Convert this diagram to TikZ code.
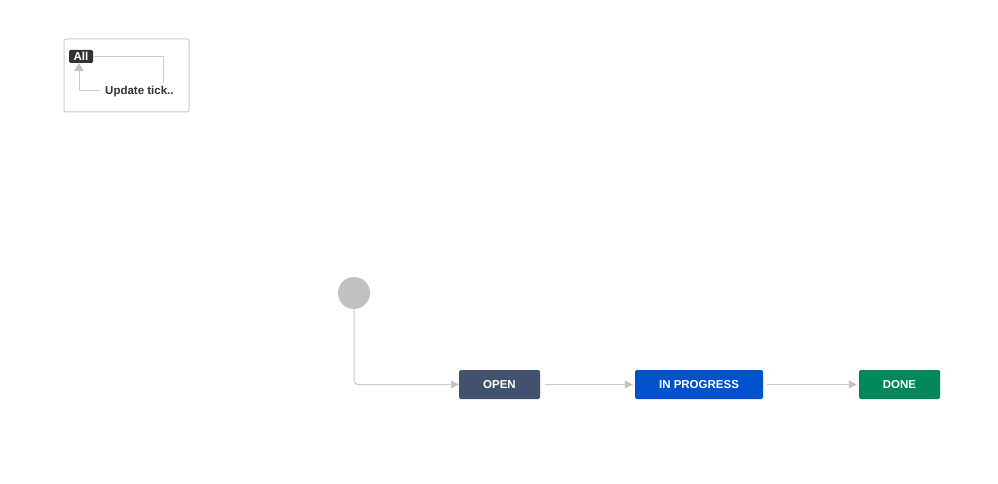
\documentclass[tikz,border=0pt]{standalone}
\usepackage{fontspec}
\setmainfont{Liberation Sans}
\usetikzlibrary{arrows.meta}
\definecolor{lineg}{HTML}{CCCCCC}
\definecolor{tipg}{HTML}{C4C4C4}
\definecolor{openc}{HTML}{42526E}
\definecolor{progc}{HTML}{0052CC}
\definecolor{donec}{HTML}{00875A}
\definecolor{tagc}{HTML}{333333}
\definecolor{startc}{HTML}{C1C1C1}
\tikzset{
  status/.style={rectangle, rounded corners=1.5pt, minimum height=29pt, inner sep=0pt, text=white, font=\bfseries\fontsize{11.5pt}{13pt}\selectfont},
  conn/.style={draw=lineg, line width=1pt, -{Triangle[length=8pt,width=8pt,fill=tipg,color=tipg]}},
}
\begin{document}
\begin{tikzpicture}[x=1pt,y=-1pt]
\useasboundingbox (0,0) rectangle (998,484);
% global transitions box
\node[draw=lineg, line width=1pt, rounded corners=2pt, minimum width=125pt, minimum height=73pt, inner sep=0pt] (gbox) at (126.5,75.5) {};
\node[fill=tagc, rounded corners=1.5pt, minimum width=24pt, minimum height=13pt, inner sep=0pt, text=white, font=\bfseries\fontsize{11.5pt}{13pt}\selectfont] (all) at (81,56.5) {All};
\node[anchor=west, inner sep=0pt, text=tagc, font=\bfseries\fontsize{11.5pt}{13pt}\selectfont] (upd) at (105,91.5) {Update tick..};
\coordinate (l1) at (163,56.5);
\coordinate (l2) at (163,83);
\coordinate (l3) at (100,90.5);
\coordinate (l4) at (79,90.5);
\draw[draw=lineg, line width=1pt] (all.east) -- (l1) -- (l2);
\draw[conn, -{Triangle[length=8pt,width=10pt,fill=tipg,color=tipg]}] (l3) -- (l4) -- (all.south -| l4);
% workflow
\node[circle, fill=startc, minimum size=32pt, inner sep=0pt] (start) at (354,293) {};
\node[status, fill=openc, minimum width=81pt] (open) at (499.5,384.5) {OPEN};
\node[status, fill=progc, minimum width=128pt] (prog) at (699,384.5) {IN PROGRESS};
\node[status, fill=donec, minimum width=81pt] (done) at (899.5,384.5) {DONE};
\draw[conn, rounded corners=4pt] (start.south) |- (open.west);
\draw[conn, shorten <=5pt, shorten >=2pt] (open.east) -- (prog.west);
\draw[conn, shorten <=4pt, shorten >=2pt] (prog.east) -- (done.west);
\end{tikzpicture}
\end{document}
